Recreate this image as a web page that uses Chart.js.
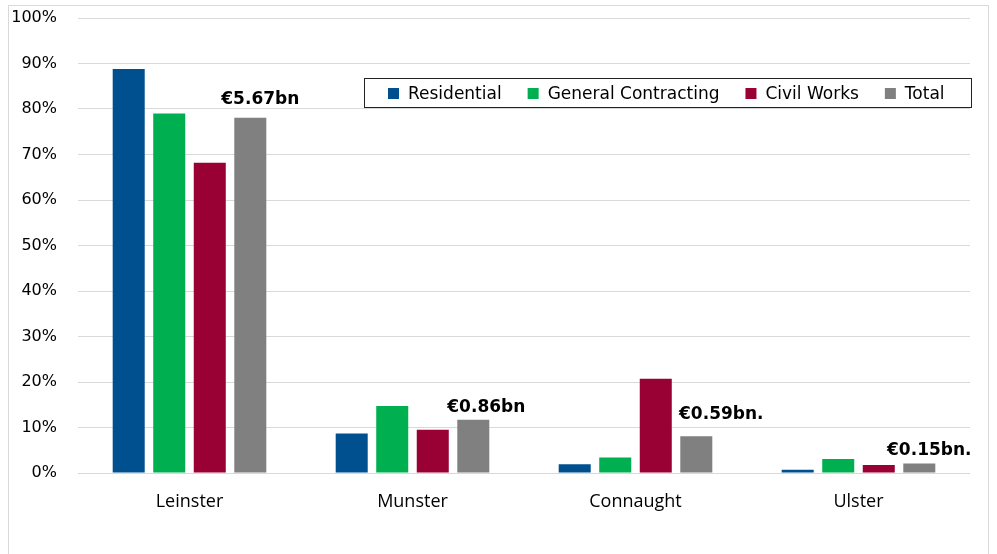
<!DOCTYPE html>
<html>
<head>
<meta charset="utf-8">
<script src="https://cdn.jsdelivr.net/npm/chart.js@4.4.1/dist/chart.umd.min.js"></script>
<style>
  html, body { margin: 0; padding: 0; background: #fff; }
  #wrap { width: 997px; height: 554px; position: relative; }
</style>
</head>
<body>
<div id="wrap"><canvas id="c"></canvas></div>
<script>
const categories = ['Leinster', 'Munster', 'Connaught', 'Ulster'];
const residential = [88.8, 8.7, 1.9, 0.7];
const generalContracting = [79.0, 14.7, 3.4, 3.1];
const civilWorks = [68.2, 9.5, 20.7, 1.75];
const total = [78.1, 11.7, 8.1, 2.1];
const totalLabels = ['€5.67bn', '€0.86bn', '€0.59bn.', '€0.15bn.'];
const seriesNames = ['Residential', 'General Contracting', 'Civil Works', 'Total'];
const colors = ['#00508f', '#00b050', '#990033', '#808080'];
const yTicks = [0, 10, 20, 30, 40, 50, 60, 70, 80, 90, 100];

const frame = {
  id: 'frame',
  beforeDraw(chart) {
    const ctx = chart.ctx;
    ctx.save();
    ctx.fillStyle = '#fff';
    ctx.fillRect(0, 0, chart.width, chart.height);
    ctx.strokeStyle = '#d9d9d9';
    ctx.lineWidth = 1;
    ctx.strokeRect(8.5, 5.5, 980, 600);
    ctx.restore();
  }
};

const totalLabelPlugin = {
  id: 'totalLabels',
  afterDatasetsDraw(chart, args, opts) {
    const ctx = chart.ctx;
    const meta = chart.getDatasetMeta(3);
    ctx.save();
    ctx.font = 'bold 17px "DejaVu Sans", Verdana, sans-serif';
    ctx.fillStyle = '#000';
    ctx.textAlign = 'center';
    ctx.textBaseline = 'middle';
    meta.data.forEach((bar, i) => {
      const o = opts.offsets[i] || [13, -16];
      ctx.fillText(totalLabels[i], bar.x + o[0], bar.y + o[1]);
    });
    ctx.restore();
  }
};

const legendBox = {
  id: 'legendBox',
  afterDraw(chart) {
    const ctx = chart.ctx;
    ctx.save();
    ctx.strokeStyle = '#222';
    ctx.lineWidth = 1;
    ctx.strokeRect(364.5, 78.5, 607, 29);
    ctx.font = '17px "DejaVu Sans", Verdana, sans-serif';
    ctx.textBaseline = 'middle';
    ctx.textAlign = 'left';
    let x = 388;
    const cy = 93.5;
    chart.data.datasets.forEach((ds) => {
      ctx.fillStyle = ds.backgroundColor;
      ctx.fillRect(x, cy - 5.5, 11, 11);
      ctx.fillStyle = '#000';
      ctx.fillText(ds.label, x + 20, cy + 1);
      x += 20 + ctx.measureText(ds.label).width + 26;
    });
    ctx.restore();
  }
};

const seriesData = [residential, generalContracting, civilWorks, total];

new Chart(document.getElementById('c'), {
  type: 'bar',
  data: {
    labels: categories,
    datasets: seriesNames.map((name, i) => ({
      label: name,
      data: seriesData[i],
      backgroundColor: colors[i],
      borderWidth: 0,
      categoryPercentage: 0.727,
      barPercentage: 0.79
    }))
  },
  options: {
    responsive: true,
    maintainAspectRatio: false,
    animation: false,
    events: [],
    layout: { padding: { left: 0, right: 27, top: 18, bottom: 0 } },
    plugins: {
      legend: { display: false },
      tooltip: { enabled: false },
      title: { display: false },
      totalLabels: { offsets: [[10, -18], [13, -12], [25, -22], [10, -13]] }
    },
    scales: {
      x: {
        grid: { display: false },
        border: { display: false },
        ticks: {
          color: '#000',
          font: { family: '"Open Sans", sans-serif', size: 18 },
          padding: 10
        },
        afterFit(scale) { scale.height = 81; scale.paddingLeft = 0; scale.paddingRight = 0; }
      },
      y: {
        min: 0,
        max: 100,
        afterBuildTicks(scale) { scale.ticks = yTicks.map(v => ({ value: v })); },
        grid: { color: '#d9d9d9', drawTicks: false, lineWidth: 1 },
        border: { display: false },
        ticks: {
          color: '#000',
          font: { family: '"DejaVu Sans", Verdana, sans-serif', size: 16 },
          padding: 21,
          callback: v => v + '%'
        },
        afterFit(scale) { scale.width = 78; scale.paddingTop = 0; scale.paddingBottom = 0; }
      }
    }
  },
  plugins: [frame, totalLabelPlugin, legendBox]
});
</script>
</body>
</html>
